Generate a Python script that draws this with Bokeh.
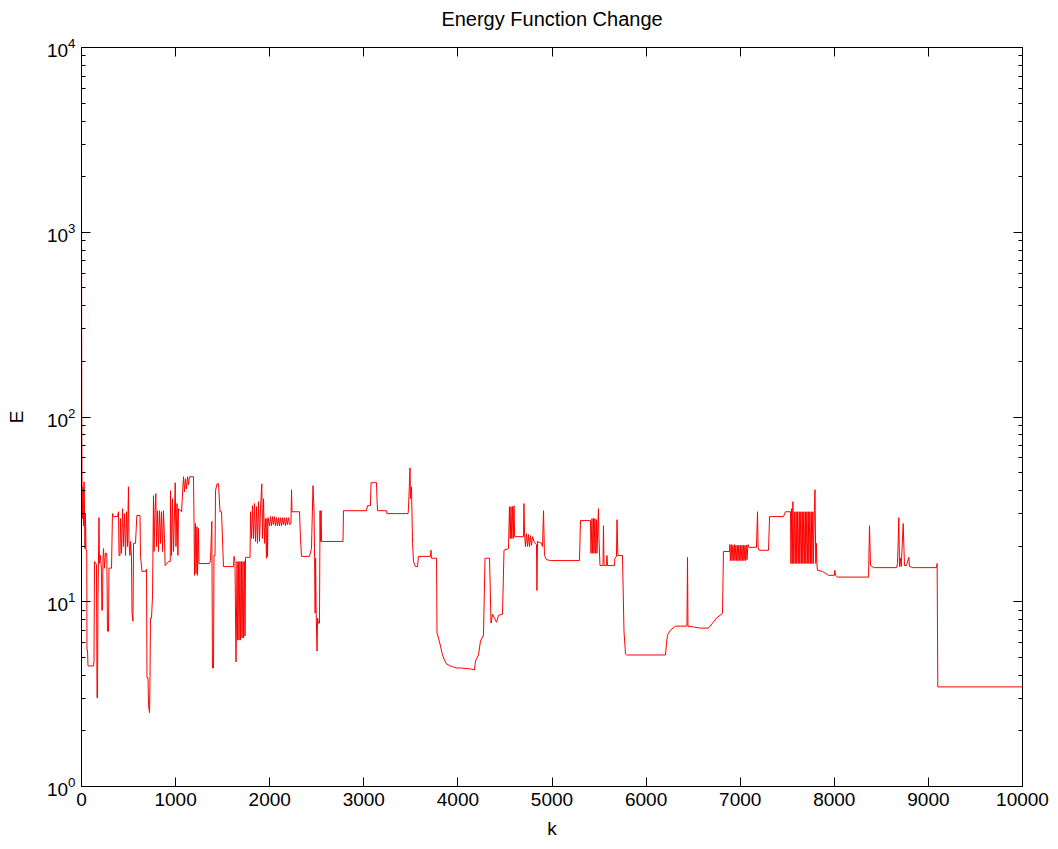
from bokeh.plotting import figure
from bokeh.models import (Range1d, FixedTicker, LinearAxis, LogAxis,
                          ColumnDataSource, CustomJSTickFormatter)
from bokeh.embed import file_html
from bokeh.resources import INLINE

# iteration index k and energy E (segment by segment)
k_a = [0, 3, 6, 11, 16, 21, 27, 32, 37, 42, 48, 56, 58, 64, 69, 128, 133, 138, 159, 165,
       170, 175, 186, 191, 202, 213, 216, 223, 228, 234, 244, 255, 269, 276, 287, 292, 319, 329, 340, 383,
       393, 399, 409, 414, 425, 436, 446, 457, 468, 478, 489, 499, 505, 515, 521, 531, 537, 547, 553, 574,
       588, 622, 627, 643, 680, 691, 696, 707, 712, 723, 728, 733, 744, 755, 765, 771, 781, 790, 797, 808]
E_a = [1443, 97.5, 36.1, 28.2, 41.9, 25.8, 44.6, 31.9, 19.4, 30.0, 19.0, 19.0, 5.48, 5.48, 4.49, 4.49, 4.78, 16.5, 15.9, 3.02,
       3.02, 10.4, 28.5, 16.1, 17.8, 14.6, 9.0, 9.0, 17.2, 19.4, 15.2, 18.3, 18.3, 6.93, 6.93, 15.2, 15.2, 30.0, 28.9, 28.9,
       30.7, 17.8, 17.8, 28.2, 18.3, 31.9, 19.9, 30.0, 17.8, 30.7, 19.9, 41.9, 20.7, 17.8, 21.2, 17.8, 8.67, 7.85, 20.7, 20.7,
       29.3, 29.3, 17.6, 14.6, 14.6, 15.0, 3.87, 3.87, 2.77, 2.51, 3.87, 8.15, 8.15, 10.8, 37.5, 18.7, 31.1, 38.5, 19.9, 31.1]

k_b = [818, 829, 840, 850, 861, 871, 882, 889, 925, 943, 946, 957, 967, 978, 996, 1004, 1015, 1025, 1031, 1063,
       1084, 1095, 1105, 1116, 1127, 1137, 1148, 1190, 1196, 1201, 1211, 1217, 1227, 1233, 1243, 1249, 1360, 1371, 1385, 1392,
       1403, 1408, 1419, 1424, 1440, 1456, 1472, 1488, 1509, 1615, 1621, 1631, 1642, 1653, 1658, 1668, 1674, 1684, 1690, 1700,
       1706, 1716, 1722, 1732, 1738, 1743, 1791, 1796, 1807, 1817, 1828, 1838, 1849, 1860, 1870, 1881, 1892, 1902, 1916, 1923]
E_b = [18.7, 31.1, 20.7, 30.7, 18.7, 31.1, 22.0, 15.7, 16.5, 16.5, 39.9, 17.8, 36.1, 18.7, 44.1, 19.9, 34.0, 17.8, 31.9, 30.7,
       47.5, 39.4, 46.3, 40.9, 47.5, 43.0, 47.5, 47.5, 27.5, 13.9, 26.5, 14.2, 25.5, 13.9, 24.9, 16.1, 16.1, 16.7, 27.2, 4.38,
       4.38, 17.8, 17.8, 39.9, 43.5, 43.5, 30.7, 30.7, 15.5, 15.5, 17.6, 16.5, 4.72, 16.5, 6.20, 16.5, 6.20, 16.5, 6.20, 16.5,
       6.36, 16.5, 6.36, 16.5, 6.52, 17.4, 17.4, 30.7, 22.0, 33.1, 22.0, 34.0, 21.2, 32.7, 20.7, 34.8, 21.2, 31.9, 43.5, 22.0]

k_c = [1934, 1945, 1955, 1966, 1971, 1977, 1982, 1998, 2009, 2019, 2030, 2040, 2051, 2062, 2072, 2083, 2094, 2104, 2115, 2126,
       2136, 2147, 2157, 2168, 2179, 2189, 2200, 2211, 2226, 2232, 2237, 2317, 2327, 2338, 2423, 2444, 2460, 2471, 2477, 2483,
       2488, 2494, 2503, 2509, 2518, 2529, 2535, 2540, 2546, 2551, 2779, 2784, 3029, 3039, 3071, 3077, 3135, 3140, 3146, 3241,
       3246, 3470, 3475, 3491, 3496, 3507, 3518, 3528, 3549, 3571, 3581, 3709, 3714, 3719, 3773, 3778, 3794, 3815, 3836, 3858]
E_c = [36.1, 20.7, 28.2, 17.2, 28.2, 17.6, 28.5, 25.8, 28.9, 25.8, 28.9, 26.2, 28.9, 25.8, 28.5, 25.8, 28.5, 25.8, 28.5, 25.8,
       28.5, 26.2, 28.5, 25.8, 28.5, 26.2, 28.5, 26.2, 26.5, 40.4, 30.7, 30.7, 22.0, 17.6, 17.6, 19.4, 42.5, 31.1, 17.2, 8.67,
       17.2, 8.67, 5.41, 8.15, 7.66, 7.66, 31.1, 21.2, 31.1, 21.2, 21.2, 31.1, 31.1, 33.1, 33.1, 44.1, 44.1, 36.1, 31.1, 31.1,
       30.0, 30.0, 31.9, 53.1, 36.1, 41.9, 20.7, 16.5, 15.5, 15.5, 17.6, 17.6, 19.0, 17.2, 17.2, 6.77, 6.36, 5.76, 5.15, 4.84]

k_d = [3879, 3921, 3985, 4028, 4134, 4176, 4187, 4219, 4240, 4272, 4288, 4336, 4352, 4368, 4389, 4410, 4432, 4474, 4490, 4538,
       4548, 4556, 4564, 4572, 4580, 4588, 4596, 4603, 4697, 4702, 4708, 4718, 4729, 4740, 4750, 4761, 4771, 4782, 4793, 4814,
       4835, 4840, 4846, 4888, 4899, 4910, 4920, 4942, 4984, 5292, 5303, 5409, 5414, 5425, 5430, 5441, 5446, 5456, 5462, 5473,
       5478, 5489, 5494, 5499, 5510, 5542, 5547, 5553, 5579, 5584, 5590, 5664, 5669, 5685, 5691, 5700, 5749, 5765, 5781, 5792]
E_d = [4.61, 4.49, 4.38, 4.38, 4.33, 4.27, 4.78, 5.15, 6.12, 6.60, 17.2, 17.2, 7.66, 8.56, 8.15, 7.75, 8.45, 8.56, 19.0, 19.4,
       32.7, 22.0, 32.7, 22.0, 32.7, 22.0, 33.1, 22.5, 22.5, 34.0, 23.4, 19.9, 23.4, 19.9, 23.1, 19.9, 22.8, 20.2, 22.5, 20.9,
       20.4, 11.5, 21.2, 20.7, 19.9, 31.1, 17.8, 16.9, 16.7, 16.7, 27.5, 27.5, 18.3, 28.2, 18.3, 28.2, 18.3, 28.2, 18.3, 27.8,
       18.3, 27.5, 31.9, 22.0, 15.7, 15.7, 25.8, 15.7, 15.7, 17.8, 15.7, 15.7, 17.2, 17.6, 27.8, 17.8, 17.8, 6.93, 5.21, 5.15]

k_e = [6206, 6217, 6227, 6259, 6312, 6434, 6440, 6445, 6578, 6663, 6706, 6748, 6812, 6822, 6886, 6890, 6896, 6906, 6912, 6922,
       6928, 6938, 6944, 6954, 6960, 6970, 6976, 6986, 6992, 7003, 7008, 7019, 7024, 7035, 7040, 7051, 7056, 7067, 7072, 7083,
       7094, 7173, 7184, 7190, 7200, 7301, 7312, 7460, 7481, 7535, 7539, 7547, 7553, 7560, 7569, 7579, 7585, 7595, 7601, 7611,
       7617, 7628, 7633, 7644, 7649, 7660, 7665, 7676, 7681, 7692, 7697, 7708, 7713, 7724, 7729, 7740, 7745, 7756, 7761, 7772]
E_e = [5.15, 5.97, 6.60, 7.02, 7.38, 7.38, 17.4, 7.38, 7.20, 7.20, 7.66, 8.15, 8.67, 18.7, 18.7, 20.4, 16.7, 20.4, 16.7, 20.2,
       16.7, 20.4, 16.7, 20.2, 16.7, 20.2, 16.7, 20.2, 16.7, 20.2, 16.7, 20.2, 16.7, 20.2, 16.7, 20.2, 16.7, 20.2, 16.9, 20.4,
       19.7, 19.7, 30.7, 19.7, 19.0, 19.0, 28.9, 28.9, 30.7, 30.7, 16.1, 31.9, 16.1, 34.8, 16.1, 30.7, 16.1, 30.7, 16.1, 30.7,
       16.1, 30.7, 16.1, 30.7, 16.1, 30.7, 16.1, 30.7, 16.1, 30.7, 16.1, 30.7, 16.1, 30.7, 16.1, 30.7, 16.1, 30.7, 16.1, 30.7]

k_f = [7777, 7788, 7795, 7803, 7810, 7815, 7821, 7874, 7938, 8002, 8005, 8013, 8034, 8364, 8374, 8385, 8417, 8661, 8672, 8686,
       8693, 8704, 8711, 8732, 8746, 8767, 8792, 8799, 8842, 9086, 9093, 9100, 10000]
E_f = [16.1, 30.7, 40.4, 16.1, 20.7, 16.1, 14.8, 14.6, 13.9, 13.9, 14.8, 13.9, 13.6, 13.6, 25.8, 15.7, 15.3, 15.3, 16.1, 28.5,
       15.5, 17.2, 15.5, 26.5, 15.7, 15.7, 17.4, 15.5, 15.3, 15.3, 16.1, 3.46, 3.46]

k = k_a + k_b + k_c + k_d + k_e + k_f
E = E_a + E_b + E_c + E_d + E_e + E_f

x_ticks = [0, 1000, 2000, 3000, 4000, 5000, 6000, 7000, 8000, 9000, 10000]
y_ticks = [1, 10, 100, 1000, 10000]
y_minor = [m * d for d in [1, 10, 100, 1000] for m in range(2, 10)]

TITLE = "Energy Function Change"
FONT = "Liberation Sans"

p = figure(width=1050, height=841,
           x_range=Range1d(0, 10000), y_range=Range1d(1, 10000),
           y_axis_type="log", output_backend="svg", toolbar_location=None,
           min_border_left=81, min_border_right=28,
           min_border_top=47, min_border_bottom=52)

p.background_fill_color = "white"
p.border_fill_color = "white"
p.outline_line_color = "black"
p.xgrid.visible = False
p.ygrid.visible = False


def style(ax):
    ax.axis_line_color = "black"
    ax.axis_line_width = 1
    ax.major_tick_line_color = "black"
    ax.minor_tick_line_color = "black"
    ax.major_tick_in = 9
    ax.major_tick_out = 0
    ax.minor_tick_in = 4
    ax.minor_tick_out = 0
    ax.major_label_text_font = FONT
    ax.major_label_text_color = "black"
    ax.major_label_standoff = 6
    ax.major_label_text_font_size = "19px"
    ax.axis_label_text_font = FONT
    ax.axis_label_text_font_style = "normal"
    ax.axis_label_text_font_size = "19px"
    ax.axis_label_text_color = "black"


xb = p.below[0]
xb.ticker = FixedTicker(ticks=x_ticks)
xb.axis_label = "k"
xb.axis_label_standoff = 9
style(xb)

yl = p.left[0]
yl.ticker = FixedTicker(ticks=y_ticks, minor_ticks=y_minor)
yl.axis_label = "E"
yl.axis_label_standoff = 17
style(yl)

blank = CustomJSTickFormatter(code="return ''")

# top axis: ticks only, carries the chart title as its axis label
xt = LinearAxis(ticker=FixedTicker(ticks=x_ticks), formatter=blank)
style(xt)
xt.major_label_text_color = None
xt.major_label_text_font_size = "2px"
xt.major_label_standoff = 0
xt.axis_label = TITLE
xt.axis_label_text_font_size = "20px"
xt.axis_label_standoff = 18
p.add_layout(xt, "above")

yr = LogAxis(ticker=FixedTicker(ticks=y_ticks, minor_ticks=y_minor), formatter=blank)
style(yr)
yr.major_label_text_color = None
yr.major_label_text_font_size = "2px"
yr.major_label_standoff = 0
p.add_layout(yr, "right")

src = ColumnDataSource(data=dict(k=k, E=E))
p.line("k", "E", source=src, line_color="#ff0000", line_width=1)

open("out.html", "w").write(file_html(p, INLINE))
